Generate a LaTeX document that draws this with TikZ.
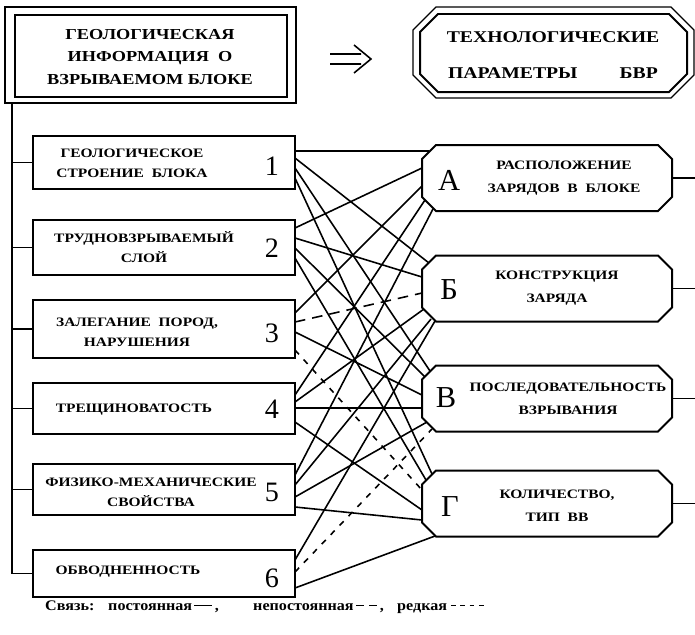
\documentclass[tikz,border=0pt]{standalone}
\usepackage{fontspec}
\setmainfont{Liberation Serif}
\newfontfamily\wf[FakeStretch=1.2]{Liberation Serif}
\newfontfamily\lf[FakeStretch=1.1]{Liberation Serif}
\newcommand\myocta[6]{\draw[#6] (#1+#5,#2) -- (#3-#5,#2) -- (#3,#2+#5) -- (#3,#4-#5) -- (#3-#5,#4) -- (#1+#5,#4) -- (#1,#4-#5) -- (#1,#2+#5) -- cycle;}
\begin{document}
\begin{tikzpicture}[x=0.03cm,y=-0.03cm,
  box/.style={draw, line width=1.7pt, inner sep=0pt},
  lbl/.style={font=\wf\bfseries\fontsize{11}{17}\selectfont, align=center, inner sep=0pt},
  rlbl/.style={font=\wf\bfseries\fontsize{11}{19.6}\selectfont, align=center, inner sep=0pt},
  hdr/.style={font=\wf\bfseries\fontsize{13}{19.6}\selectfont, align=center, inner sep=0pt},
  hdrr/.style={font=\wf\bfseries\fontsize{14}{30.7}\selectfont, align=center, inner sep=0pt},
  num/.style={font=\fontsize{24}{24}\selectfont, inner sep=0pt},
  letr/.style={font=\fontsize{26}{26}\selectfont, inner sep=0pt},
  leg/.style={font=\lf\bfseries\fontsize{12.5}{14}\selectfont, inner sep=0pt, anchor=base west},
  con/.style={line width=1.35pt},
  varl/.style={con, dash pattern=on 9pt off 6pt},
  rare/.style={con, dash pattern=on 5pt off 6pt},
]
\useasboundingbox (0,0) rectangle (695,634);
\coordinate (edge) at (695,0);

% left header
\node[draw, line width=1.1pt, minimum width=291*0.03cm, minimum height=96*0.03cm, inner sep=0pt] (hLo) at (150.5,55) {};
\node[box, minimum width=272*0.03cm, minimum height=82*0.03cm] (hLi) at (151,56) {};
\node[hdr] (hLt) at (150,57) {ГЕОЛОГИЧЕСКАЯ\\ИНФОРМАЦИЯ\ \ О\\ВЗРЫВАЕМОМ БЛОКЕ};

% arrow
\coordinate (ar1) at (330,54); \coordinate (ar2) at (361,54);
\coordinate (ar3) at (330,64); \coordinate (ar4) at (361,64);
\coordinate (ar5) at (354,45); \coordinate (ar6) at (371,59); \coordinate (ar7) at (354,73);
\draw[con] (ar1) -- (ar2) (ar3) -- (ar4) (ar5) -- (ar6) -- (ar7);

% right header
\myocta{413}{7}{694}{98}{23}{draw, line width=1.1pt}
\myocta{420}{14}{687}{92}{18}{box}
\node[hdrr] (hRt) at (553,55) {ТЕХНОЛОГИЧЕСКИЕ\\ПАРАМЕТРЫ\hspace{36pt}БВР};

% left boxes
\foreach \n/\y/\h in {b1/162.5/53, b2/247.5/55, b3/329/58, b4/408.5/51, b5/489.5/51, b6/573.5/47}
  \node[box, minimum width=262*0.03cm, minimum height=\h*0.03cm] (\n) at (164,\y) {};

\node[lbl] (t1) at (132,163) {ГЕОЛОГИЧЕСКОЕ\\СТРОЕНИЕ\ \ БЛОКА};
\node[lbl] (t2) at (144,247.5) {ТРУДНОВЗРЫВАЕМЫЙ\\СЛОЙ};
\node[lbl] (t3) at (137,332) {ЗАЛЕГАНИЕ\ \ ПОРОД,\\НАРУШЕНИЯ};
\node[lbl] (t4) at (134,410) {ТРЕЩИНОВАТОСТЬ};
\node[lbl] (t5) at (151,492) {ФИЗИКО-МЕХАНИЧЕСКИЕ\\СВОЙСТВА};
\node[lbl] (t6) at (128,572) {ОБВОДНЕННОСТЬ};

\node[num] (n1) at (272,166) {1};
\node[num] (n2) at (272,248) {2};
\node[num] (n3) at (272,333) {3};
\node[num] (n4) at (272,409) {4};
\node[num] (n5) at (272,492) {5};
\node[num] (n6) at (272,578) {6};

% bus
\coordinate (bus0) at (12,103); \coordinate (bus1) at (12,573.5);
\draw[con, line width=1.4pt] (bus0) -- (bus1);
\foreach \b in {b1,b2,b3,b4,b5,b6} \draw[con, line width=1.4pt] (\b.west -| bus0) -- (\b.west);

% right boxes
\foreach \n/\y in {rA/178, rB/288.5, rV/398.5, rG/503.5} {
  \node[minimum width=250*0.03cm, minimum height=66*0.03cm, inner sep=0pt] (\n) at (547,\y) {};
  \myocta{422}{\y-33}{672}{\y+33}{14}{box}
  \draw[con, line width=1.4pt] (\n.east) -- (\n.east -| edge);
}
\node[letr] (lA) at (449,180) {А};
\node[rlbl] (xA) at (564,178) {РАСПОЛОЖЕНИЕ\\ЗАРЯДОВ\ \ В\ \ БЛОКЕ};
\node[letr] (lB) at (449,290) {Б};
\node[rlbl] (xB) at (557,288) {КОНСТРУКЦИЯ\\ЗАРЯДА};
\node[letr] (lV) at (446,398) {В};
\node[rlbl] (xV) at (568,399) {ПОСЛЕДОВАТЕЛЬНОСТЬ\\ВЗРЫВАНИЯ};
\node[letr] (lG) at (450,507) {Г};
\node[rlbl] (xG) at (557,506) {КОЛИЧЕСТВО,\\ТИП\ \ ВВ};

% connectors
\foreach \i/\ly/\rx/\ry/\st in {
  1a/151/429/151/con, 1b/158/429/263/con, 1v/168/430/371/con, 1g/178/432/474/con,
  2a/228/422/168/con, 2b/238/422/277/con, 2v/248/425/377/con, 2g/258/426/480/con,
  3a/313/422/186/con, 3b/322/422/293/varl, 3v/332/422/395/con, 3g/350/422/490/rare,
  4a/395/425/200/con, 4b/402/424/309/con, 4v/408/422/408/con, 4g/422/422/510/con,
  5a/475/433/209/con, 5b/485/431/319/con, 5v/497/427/422/con, 5g/507/422/520/con,
  6b/560/435/321/con, 6v/572/432/429/rare, 6g/588/435/536/con} {
  \coordinate (s\i) at (295,\ly);
  \coordinate (e\i) at (\rx,\ry);
  \draw[\st] (s\i) -- (e\i);
}

% legend
\node[leg] (g1) at (45,610) {Связь:};
\node[leg] (g2) at (108,610) {постоянная};
\coordinate (g2a) at ([xshift=1.5pt,yshift=3.5pt]g2.base east);
\coordinate (g2b) at ([xshift=17pt,yshift=3.5pt]g2.base east);
\draw[con, line width=1pt] (g2a) -- (g2b);
\node[leg] (g3) at ([xshift=19pt]g2.base east) {,};
\node[leg] (g4) at (253,610) {непостоянная};
\coordinate (g4a) at ([xshift=2pt,yshift=3.5pt]g4.base east);
\coordinate (g4b) at ([xshift=20pt,yshift=3.5pt]g4.base east);
\draw[con, line width=1pt, dash pattern=on 7pt off 4pt] (g4a) -- (g4b);
\node[leg] (g5) at ([xshift=22pt]g4.base east) {,};
\node[leg] (g6) at (397,610) {редкая};
\coordinate (g6a) at ([xshift=3pt,yshift=3.5pt]g6.base east);
\coordinate (g6b) at ([xshift=32pt,yshift=3.5pt]g6.base east);
\draw[con, line width=1pt, dash pattern=on 4pt off 4pt] (g6a) -- (g6b);
\end{tikzpicture}
\end{document}
